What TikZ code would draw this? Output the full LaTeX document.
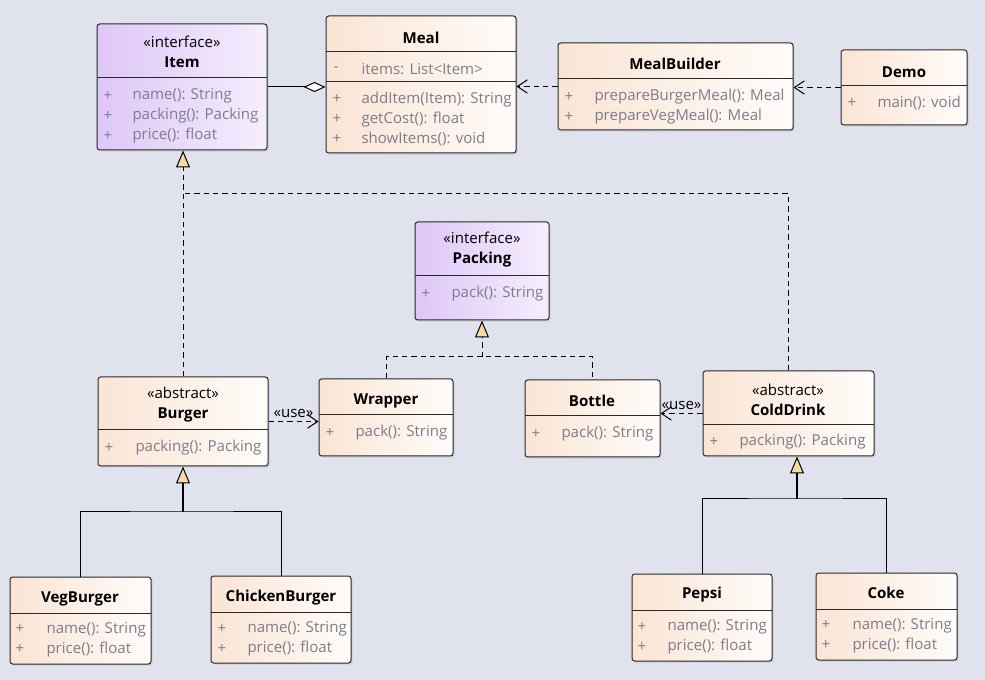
\documentclass[tikz,border=0pt]{standalone}
\usepackage{fontspec}
\setmainfont{Open Sans}
\usetikzlibrary{positioning, fit, shadows, arrows.meta}
\definecolor{uml-bg}{RGB}{224,227,238}
\definecolor{cls-left}{RGB}{250,228,212}
\definecolor{cls-right}{RGB}{255,252,250}
\definecolor{ifc-left}{RGB}{222,198,247}
\definecolor{ifc-right}{RGB}{245,238,253}
\definecolor{uml-line}{RGB}{40,40,40}
\definecolor{uml-member}{RGB}{125,125,138}
\definecolor{uml-tip}{RGB}{246,219,166}

\begin{document}
\begin{tikzpicture}[
    x=0.75pt, y=-0.75pt, line width=0.75pt,
    cls/.style={draw=uml-line, rounded corners=2pt, inner sep=0pt, left color=cls-left, right color=cls-right, drop shadow={shadow xshift=1.2pt, shadow yshift=-1.2pt, opacity=0.2}},
    ifc/.style={cls, left color=ifc-left, right color=ifc-right},
    title/.style={align=center, inner sep=0pt, font=\fontsize{11.3}{15}\selectfont},
    member/.style={anchor=west, align=left, inner sep=0pt, text=uml-member, font=\fontsize{11.3}{15}\selectfont},
    divider/.style={draw=uml-line},
    dashline/.style={draw, dash pattern=on 4pt off 3pt},
    dep/.style={dashline, -{Straight Barb[length=7.5pt, width=10pt]}},
    real/.style={dashline, -{Triangle[fill=uml-tip, length=12.75pt, width=10.5pt]}},
    gen/.style={draw},
    genstem/.style={draw, line width=2pt, -{Triangle[fill=uml-tip, line width=0.75pt, length=12.75pt, width=10.5pt]}},
    aggr/.style={draw, -{Diamond[fill=white, length=16.5pt, width=7.5pt]}},
    usel/.style={above, inner sep=2.5pt, font=\fontsize{11.3}{13}\selectfont}
]
\path[use as bounding box, fill=uml-bg] (0,0) rectangle (985,680);

% top row
\node[ifc, fit={(97,24) (267,150)}] (item) {};
\node[title] (item-title) at (182,52) {«interface»\\\textbf{Item}};
\draw[divider] (97,78) -- (267,78);
\node[member] (item-vis) at (103,116) {+\\+\\+};
\node[member] (item-ops) at (132,116) {name(): String\\packing(): Packing\\price(): float};

\node[cls, fit={(326,16) (516,153)}] (meal) {};
\node[title] (meal-title) at (421,38) {\textbf{Meal}};
\draw[divider] (326,52) -- (516,52);
\node[member] (meal-vis1) at (333,69) {-};
\node[member] (meal-attr) at (361,69) {items: List<Item>};
\draw[divider] (326,82) -- (516,82);
\node[member] (meal-vis2) at (332,119) {+\\+\\+};
\node[member] (meal-ops) at (361,119) {addItem(Item): String\\getCost(): float\\showItems(): void};

\node[cls, fit={(558,43) (793,130)}] (mealbuilder) {};
\node[title] (mealbuilder-title) at (675,64) {\textbf{MealBuilder}};
\draw[divider] (558,79) -- (793,79);
\node[member] (mealbuilder-vis) at (564,107) {+\\+};
\node[member] (mealbuilder-ops) at (594,107) {prepareBurgerMeal(): Meal\\prepareVegMeal(): Meal};

\node[cls, fit={(841,50) (967,125)}] (demo) {};
\node[title] (demo-title) at (904,72) {\textbf{Demo}};
\draw[divider] (841,86) -- (967,86);
\node[member] (demo-vis) at (847,103) {+};
\node[member] (demo-ops) at (877,103) {main(): void};

% middle row
\node[ifc, fit={(415,222) (549,320)}] (packing) {};
\node[title] (packing-title) at (482,250) {«interface»\\\textbf{Packing}};
\draw[divider] (415,276) -- (549,276);
\node[member] (packing-vis) at (421,294) {+};
\node[member] (packing-ops) at (451,294) {pack(): String};

\node[cls, fit={(98,377) (268,466)}] (burger) {};
\node[title] (burger-title) at (183,405) {«abstract»\\\textbf{Burger}};
\draw[divider] (98,430) -- (268,430);
\node[member] (burger-vis) at (104,448) {+};
\node[member] (burger-ops) at (135,448) {packing(): Packing};

\node[cls, fit={(319,379) (453,456)}] (wrapper) {};
\node[title] (wrapper-title) at (386,401) {\textbf{Wrapper}};
\draw[divider] (319,415) -- (453,415);
\node[member] (wrapper-vis) at (325,433) {+};
\node[member] (wrapper-ops) at (355,433) {pack(): String};

\node[cls, fit={(525,380) (660,457)}] (bottle) {};
\node[title] (bottle-title) at (592,401) {\textbf{Bottle}};
\draw[divider] (525,416) -- (660,416);
\node[member] (bottle-vis) at (531,434) {+};
\node[member] (bottle-ops) at (561,434) {pack(): String};

\node[cls, fit={(703,371) (874,456)}] (colddrink) {};
\node[title] (colddrink-title) at (788,400) {«abstract»\\\textbf{ColdDrink}};
\draw[divider] (703,425) -- (874,425);
\node[member] (colddrink-vis) at (709,442) {+};
\node[member] (colddrink-ops) at (739,442) {packing(): Packing};

% bottom row
\node[cls, fit={(10,577) (151,664)}] (vegburger) {};
\node[title] (vegburger-title) at (80,599) {\textbf{VegBurger}};
\draw[divider] (10,613) -- (151,613);
\node[member] (vegburger-vis) at (15,639.5) {+\\+};
\node[member] (vegburger-ops) at (46,639.5) {name(): String\\price(): float};

\node[cls, fit={(211,576) (351,663)}] (chickenburger) {};
\node[title] (chickenburger-title) at (281,598) {\textbf{ChickenBurger}};
\draw[divider] (211,612) -- (351,612);
\node[member] (chickenburger-vis) at (217,639) {+\\+};
\node[member] (chickenburger-ops) at (247,639) {name(): String\\price(): float};

\node[cls, fit={(632,574) (772,661)}] (pepsi) {};
\node[title] (pepsi-title) at (702,595) {\textbf{Pepsi}};
\draw[divider] (632,610) -- (772,610);
\node[member] (pepsi-vis) at (637,637) {+\\+};
\node[member] (pepsi-ops) at (667,637) {name(): String\\price(): float};

\node[cls, fit={(816,573) (957,660)}] (coke) {};
\node[title] (coke-title) at (886,593) {\textbf{Coke}};
\draw[divider] (816,609) -- (957,609);
\node[member] (coke-vis) at (821,635.5) {+\\+};
\node[member] (coke-ops) at (852,635.5) {name(): String\\price(): float};

% connectors
\coordinate (itemjoin) at (183,194);
\coordinate (packjoin) at (482,357);
\coordinate (burgerjoin) at (183,512);
\coordinate (drinkjoin) at (797,499);

\draw[aggr] (item.east) -- (item.east -| meal.west);
\draw[dep] (mealbuilder.west) -- (mealbuilder.west -| meal.east);
\draw[dep] (demo.west) -- (demo.west -| mealbuilder.east);

\draw[real] (burger.north) -- (burger.north |- item.south);
\draw[dashline] (colddrink.north) |- (itemjoin);

\draw[dashline] (wrapper.north) |- (packjoin) -| (bottle.north);
\draw[real] (packjoin) -- (packjoin |- packing.south);

\draw[dep] (burger.east) -- node[usel] {«use»} (burger.east -| wrapper.west);
\draw[dep] (colddrink.west) -- node[usel] {«use»} (colddrink.west -| bottle.east);

\draw[gen] (vegburger.north) |- (burgerjoin) -| (chickenburger.north);
\draw[genstem] (burgerjoin) -- (burgerjoin |- burger.south);
\draw[gen] (pepsi.north) |- (drinkjoin) -| (coke.north);
\draw[genstem] (drinkjoin) -- (drinkjoin |- colddrink.south);

\end{tikzpicture}
\end{document}
